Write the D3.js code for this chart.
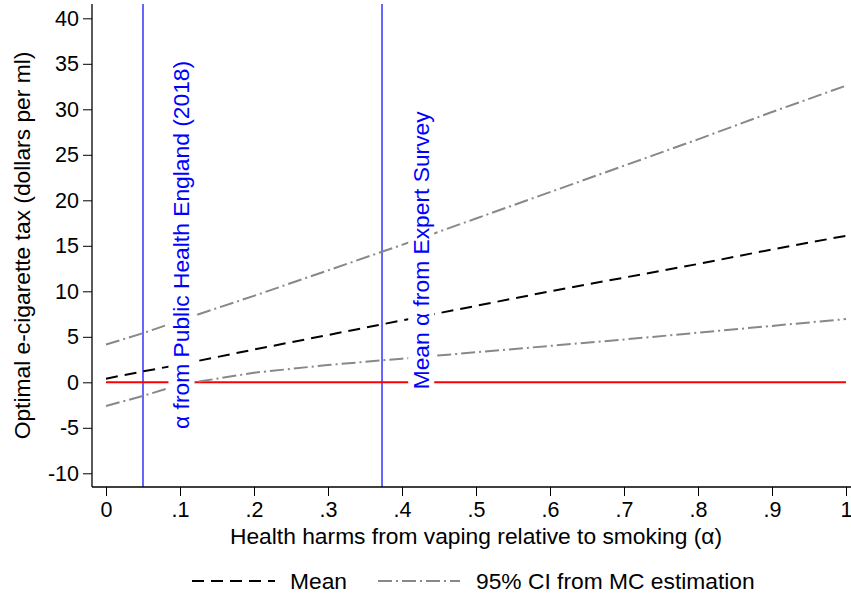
<!DOCTYPE html>
<html>
<head>
<meta charset="utf-8">
<script src="https://cdn.jsdelivr.net/npm/d3@7"></script>
<style>
  body { margin: 0; background: #fff; }
  text { font-family: "Liberation Sans", Arial, sans-serif; }
</style>
</head>
<body>
<div id="chartContainer"></div>
<script>
// values
var alphaGrid = [0, 0.05, 0.1, 0.2, 0.3, 0.4, 0.5, 0.6, 0.7, 0.8, 0.9, 1];
var meanTax   = [0.4, 1.2, 1.95, 3.6, 5.2, 6.8, 8.4, 10.0, 11.5, 13.0, 14.6, 16.1];
var upperCI   = [4.15, 5.4, 6.8, 9.5, 12.3, 15.1, 18.0, 20.9, 23.8, 26.7, 29.7, 32.6];
var lowerCI   = [-2.6, -1.5, -0.25, 1.05, 1.9, 2.6, 3.3, 4.0, 4.7, 5.45, 6.2, 6.95];

var refAlphas  = [0.05, 0.373];
var refLabels  = ["\u03b1 from Public Health England (2018)", "Mean \u03b1 from Expert Survey"];
var refLabelX  = [0.102, 0.426];
var refLabelY  = [15.1, 14.5];

var xTicks = [0, 0.1, 0.2, 0.3, 0.4, 0.5, 0.6, 0.7, 0.8, 0.9, 1];
var yTicks = [-10, -5, 0, 5, 10, 15, 20, 25, 30, 35, 40];

var legendNames = ["Mean", "95% CI from MC estimation"];

(function draw() {
  "use strict";
  var width = 851, height = 598;
  var plotLeft = 92, plotRight = 851, plotTop = 4, plotBottom = 487;
  var bigFont = "22.8px", tickFont = "21.5px";

  var svg = d3.select("#chartContainer")
    .append("svg")
    .attr("width", width)
    .attr("height", height);

  var x = d3.scaleLinear().domain([0, 1]).range([106, 846]);
  var y = d3.scaleLinear().domain([-10, 40]).range([473.3, 18.3]);

  var rows = alphaGrid.map(function (a, i) {
    return { a: a, mean: meanTax[i], hi: upperCI[i], lo: lowerCI[i] };
  });

  // vertical reference lines
  svg.selectAll("line.ref")
    .data(refAlphas)
    .enter().append("line")
    .attr("class", "ref")
    .attr("x1", function (d) { return x(d); })
    .attr("x2", function (d) { return x(d); })
    .attr("y1", plotTop)
    .attr("y2", plotBottom)
    .attr("stroke", "#0000ff")
    .attr("stroke-width", 1.2);

  // zero line
  svg.append("line")
    .attr("x1", x(0)).attr("x2", x(1))
    .attr("y1", y(0)).attr("y2", y(0))
    .attr("stroke", "#ff0000")
    .attr("stroke-width", 2);

  function lineFor(key) {
    return d3.line()
      .x(function (d) { return x(d.a); })
      .y(function (d) { return y(d[key]); });
  }

  svg.append("path").datum(rows)
    .attr("d", lineFor("hi"))
    .attr("fill", "none").attr("stroke", "#888")
    .attr("stroke-width", 2).attr("stroke-dasharray", "14,4,2,4");
  svg.append("path").datum(rows)
    .attr("d", lineFor("lo"))
    .attr("fill", "none").attr("stroke", "#888")
    .attr("stroke-width", 2).attr("stroke-dasharray", "14,4,2,4");
  svg.append("path").datum(rows)
    .attr("d", lineFor("mean"))
    .attr("fill", "none").attr("stroke", "#000")
    .attr("stroke-width", 2).attr("stroke-dasharray", "12,7");

  // rotated labels with white box
  refLabels.forEach(function (lab, i) {
    var g = svg.append("g")
      .attr("transform", "translate(" + x(refLabelX[i]) + "," + y(refLabelY[i]) + ") rotate(-90)");
    var rect = g.append("rect").attr("fill", "#fff");
    var t = g.append("text")
      .attr("text-anchor", "middle")
      .attr("dy", "0.35em")
      .attr("fill", "#0000ff")
      .style("font-size", bigFont)
      .text(lab);
    var bb = t.node().getBBox();
    rect.attr("x", bb.x - 1).attr("y", bb.y)
      .attr("width", bb.width + 2).attr("height", bb.height);
  });

  // axes
  var xAxis = d3.axisBottom(x)
    .tickValues(xTicks)
    .tickSize(9)
    .tickPadding(6)
    .tickFormat(function (d) {
      if (d === 0) return "0";
      if (d === 1) return "1";
      return String(d).replace(/^0/, "");
    });
  var gx = svg.append("g")
    .attr("transform", "translate(0," + plotBottom + ")")
    .call(xAxis);
  gx.select(".domain").remove();
  gx.selectAll("text").style("font-size", tickFont).attr("fill", "#000")
    .style("font-family", "'Liberation Sans', Arial, sans-serif");
  gx.selectAll("line").attr("stroke", "#000");
  svg.append("line")
    .attr("x1", plotLeft).attr("x2", plotRight)
    .attr("y1", plotBottom).attr("y2", plotBottom)
    .attr("stroke", "#000").attr("stroke-width", 1.3);

  var yAxis = d3.axisLeft(y)
    .tickValues(yTicks)
    .tickSize(9)
    .tickPadding(4)
    .tickFormat(function (d) { return String(d); });
  var gy = svg.append("g")
    .attr("transform", "translate(" + plotLeft + ",0)")
    .call(yAxis);
  gy.select(".domain").remove();
  gy.selectAll("text").style("font-size", tickFont).attr("fill", "#000")
    .style("font-family", "'Liberation Sans', Arial, sans-serif");
  gy.selectAll("line").attr("stroke", "#000");
  svg.append("line")
    .attr("x1", plotLeft).attr("x2", plotLeft)
    .attr("y1", plotTop).attr("y2", plotBottom)
    .attr("stroke", "#000").attr("stroke-width", 1.3);

  // axis titles
  svg.append("text")
    .attr("x", x(0.5)).attr("y", 544)
    .attr("text-anchor", "middle")
    .style("font-size", bigFont)
    .text("Health harms from vaping relative to smoking (\u03b1)");
  svg.append("text")
    .attr("transform", "translate(30," + ((plotTop + plotBottom) / 2) + ") rotate(-90)")
    .attr("text-anchor", "middle")
    .style("font-size", bigFont)
    .text("Optimal e-cigarette tax (dollars per ml)");

  // legend
  var legY = 581;
  var leg = [
    { x1: 192, x2: 275, tx: 290, stroke: "#000", dash: "12,7" },
    { x1: 378, x2: 460, tx: 476, stroke: "#888", dash: "14,4,2,4" }
  ];
  leg.forEach(function (l, i) {
    svg.append("line")
      .attr("x1", l.x1).attr("x2", l.x2)
      .attr("y1", legY).attr("y2", legY)
      .attr("stroke", l.stroke).attr("stroke-width", 2)
      .attr("stroke-dasharray", l.dash);
    svg.append("text")
      .attr("x", l.tx).attr("y", legY)
      .attr("dy", "0.35em")
      .style("font-size", bigFont)
      .text(legendNames[i]);
  });
})();
</script>
</body>
</html>
